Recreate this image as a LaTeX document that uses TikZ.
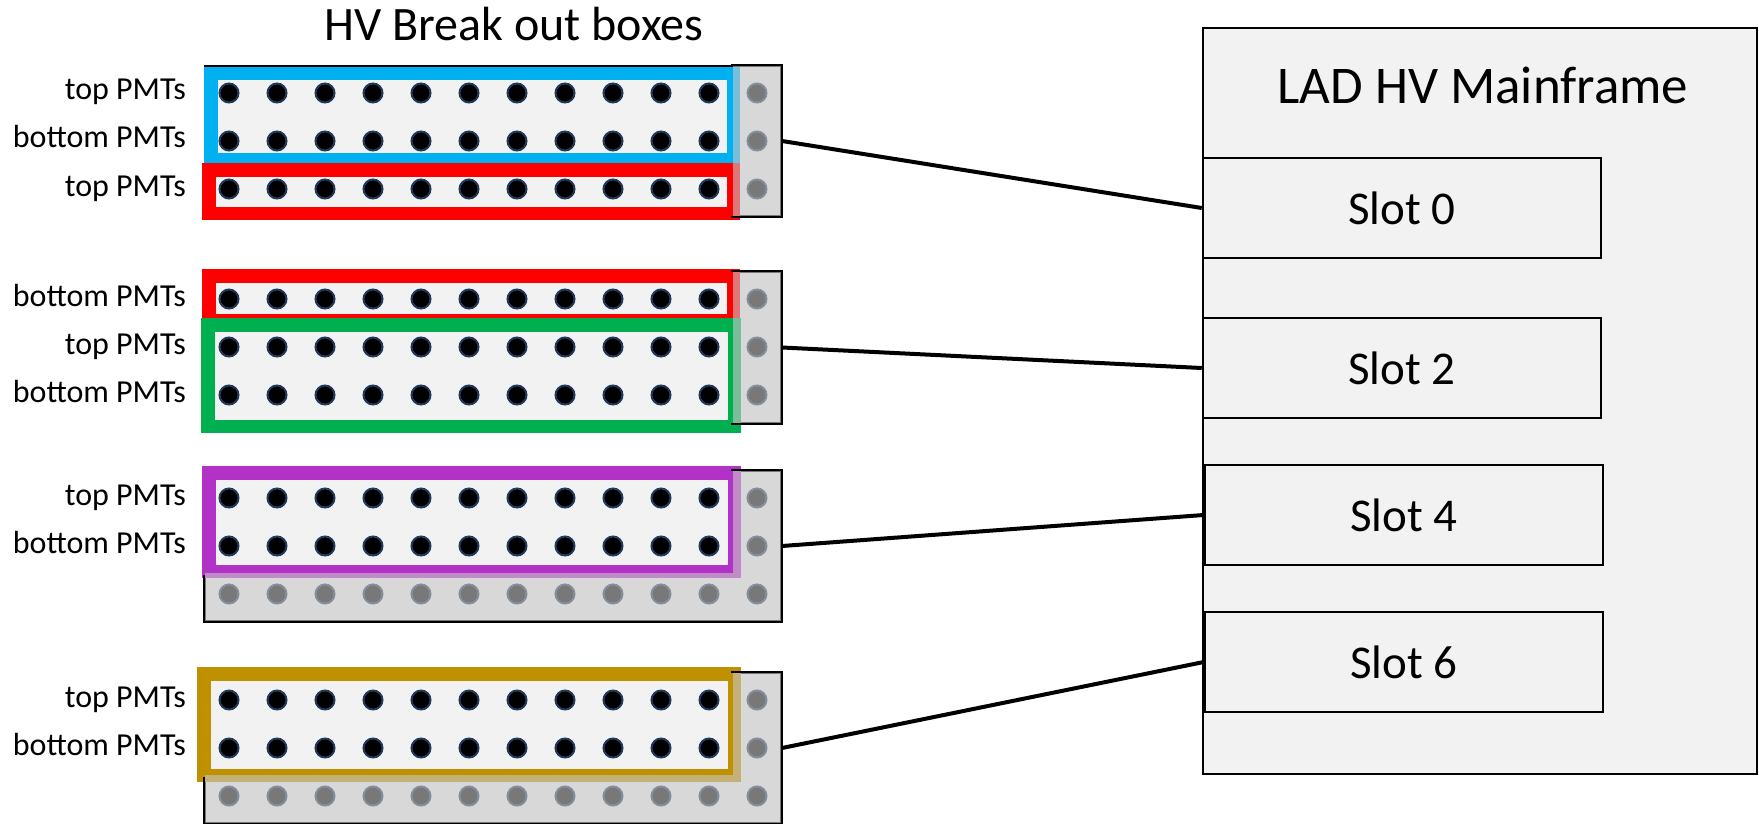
\documentclass[tikz,border=0pt]{standalone}
\usepackage{fontspec}
\setmainfont{Carlito}
\definecolor{panel}{HTML}{F2F2F2}
\definecolor{dotblue}{HTML}{1F3A5C}
\definecolor{cblue}{HTML}{00B0F0}
\definecolor{cred}{HTML}{FF0000}
\definecolor{cgreen}{HTML}{00B050}
\definecolor{cpurple}{RGB}{178,50,200}
\definecolor{cgold}{HTML}{BF9000}
\definecolor{coverc}{RGB}{200,200,200}
\begin{document}
\begin{tikzpicture}[x=1pt,y=-1pt,
  board/.style={draw=black, line width=2pt, fill=panel, inner sep=0pt, minimum width=576pt, minimum height=150pt},
  boardline/.style={draw=black, line width=2pt},
  dotst/.style={fill=black, draw=dotblue, line width=2pt},
  frame/.style={line width=13.5pt, fill=panel},
  cover/.style={fill=coverc, fill opacity=0.6},
  lbl/.style={font=\fontsize{32}{32}\selectfont, anchor=base east, inner sep=0pt},
  slotbox/.style={draw=black, line width=2.5pt, fill=panel, minimum width=398pt, minimum height=100pt, inner sep=0pt, font=\fontsize{47}{47}\selectfont},
  wire/.style={line width=4pt}
]
\useasboundingbox (0,0) rectangle (1759,824);

% titles
\node[font=\fontsize{48}{48}\selectfont] (t1) at (514,24) {HV Break out boxes};

% mainframe
\node[draw=black, line width=2pt, fill=panel, minimum width=554pt, minimum height=746pt, inner sep=0pt] (mf) at (1480,401) {};
\node[font=\fontsize{53}{53}\selectfont] (mft) at (1483,85) {LAD HV Mainframe};
\node[slotbox] (s0) at (1402,208) {Slot 0};
\node[slotbox] (s2) at (1402,368) {Slot 2};
\node[slotbox] (s4) at (1404,515) {Slot 4};
\node[slotbox] (s6) at (1404,662) {Slot 6};

% ---------- box 1 ----------
\node[board] (b1) at (493,141) {};
\draw[frame, draw=cblue] (210.75,73.75) rectangle (733.25,160.25);
\draw[frame, draw=cred] (208.75,169.75) rectangle (733.25,213.25);
\foreach \r in {93,141,189} \foreach \c in {0,...,11}
  \filldraw[dotst] ({229+48*\c},\r) circle[radius=9.5pt];
\fill[cover] (733,66) rectangle (781,216);
\begin{scope}
  \clip (731,60) rectangle (790,222);
  \draw[boardline] (b1.south west) rectangle (b1.north east);
\end{scope}
\node[lbl] (l1a) at (186,100) {top PMTs};
\node[lbl] (l1b) at (186,148) {bottom PMTs};
\node[lbl] (l1c) at (186,196) {top PMTs};

% ---------- box 2 ----------
\node[board, minimum height=151pt] (b2) at (493,347.5) {};
\draw[frame, draw=cred] (208.75,275.75) rectangle (733.25,320.25);
\draw[frame, draw=cgreen] (207.75,324.75) rectangle (734.25,426.25);
\foreach \r in {299,347,395} \foreach \c in {0,...,11}
  \filldraw[dotst] ({229+48*\c},\r) circle[radius=9.5pt];
\fill[cover] (733,272) rectangle (781,423);
\begin{scope}
  \clip (731,266) rectangle (790,429);
  \draw[boardline] (b2.south west) rectangle (b2.north east);
\end{scope}
\node[lbl] (l2a) at (186,306) {bottom PMTs};
\node[lbl] (l2b) at (186,354) {top PMTs};
\node[lbl] (l2c) at (186,402) {bottom PMTs};

% ---------- box 3 ----------
\node[board] (b3) at (493,546) {};
\draw[frame, draw=cpurple] (208.75,472.75) rectangle (734.25,571.25);
\foreach \r in {498,546,594} \foreach \c in {0,...,11}
  \filldraw[dotst] ({229+48*\c},\r) circle[radius=9.5pt];
\fill[cover] (733,471) rectangle (781,621) (205,573) rectangle (733,621);
\begin{scope}
  \clip (731,465) rectangle (790,627) (199,575) rectangle (733,627);
  \draw[boardline] (b3.south west) rectangle (b3.north east);
\end{scope}
\node[lbl] (l3a) at (186,505) {top PMTs};
\node[lbl] (l3b) at (186,553) {bottom PMTs};

% ---------- box 4 ----------
\node[board] (b4) at (493,748) {};
\draw[frame, draw=cgold] (203.75,673.75) rectangle (734.25,775.25);
\foreach \r in {700,748,796} \foreach \c in {0,...,11}
  \filldraw[dotst] ({229+48*\c},\r) circle[radius=9.5pt];
\fill[cover] (733,673) rectangle (781,823) (205,775) rectangle (733,823);
\begin{scope}
  \clip (731,667) rectangle (790,829) (199,777) rectangle (733,829);
  \draw[boardline] (b4.south west) rectangle (b4.north east);
\end{scope}
\node[lbl] (l4a) at (186,707) {top PMTs};
\node[lbl] (l4b) at (186,755) {bottom PMTs};

% connectors
\draw[wire] (b1.east) -- (s0.west);
\draw[wire] (b2.east) -- (s2.west);
\draw[wire] (b3.east) -- (s4.west);
\draw[wire] (b4.east) -- (s6.west);
\end{tikzpicture}
\end{document}
